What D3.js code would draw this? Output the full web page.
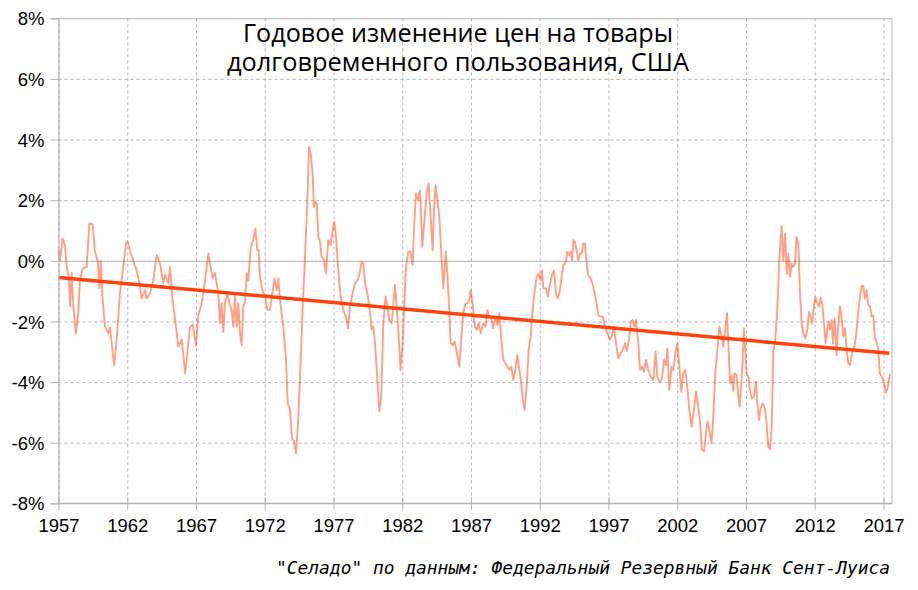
<!DOCTYPE html>
<html>
<head>
<meta charset="utf-8">
<script src="https://cdn.jsdelivr.net/npm/d3@7"></script>
<style>
  html, body { margin: 0; padding: 0; background: #fff; }
  svg { display: block; }
</style>
</head>
<body>
<svg id="chart" width="918" height="590"></svg>
<script>
// ---- Data ----
const titleLines = ["Годовое изменение цен на товары", "долговременного пользования, США"];
const sourceNote = "\"Селадо\" по данным: Федеральный Резервный Банк Сент-Луиса";

const xTickYears = [1957, 1962, 1967, 1972, 1977, 1982, 1987, 1992, 1997, 2002, 2007, 2012, 2017];
const yTickValues = [-8, -6, -4, -2, 0, 2, 4, 6, 8];

const trendYears = [1957.0, 2017.42];
const trendValues = [-0.55, -3.05];

const years = [
  1957.00,1957.10,1957.30,1957.47,1957.59,1957.76,1957.84,1957.96,1958.08,1958.27,1958.44,1958.56,1958.76,
  1959.05,1959.24,1959.49,1959.65,1959.85,1959.97,1960.07,1960.21,1960.38,1960.62,1960.75,1960.94,
  1961.06,1961.23,1961.47,1961.71,1961.91,1962.03,1962.20,1962.44,1962.69,1962.93,1963.05,1963.29,
  1963.41,1963.65,1963.90,1964.14,1964.38,1964.62,1964.75,1964.99,1965.11,1965.30,1965.55,1965.72,
  1965.96,1966.08,1966.20,1966.37,1966.56,1966.76,1967.00,1967.17,1967.41,1967.65,1967.90,1968.02,
  1968.21,1968.38,1968.62,1968.75,1968.87,1968.99,1969.11,1969.28,1969.42,1969.59,1969.71,1969.84,
  1969.96,1970.08,1970.20,1970.32,1970.44,1970.56,1970.69,1970.81,1970.98,1971.17,1971.32,1971.46,
  1971.55,1971.65,1971.85,1972.02,1972.19,1972.38,1972.58,1972.70,1972.87,1972.99,1973.11,1973.35,
  1973.54,1973.67,1973.84,1973.98,1974.13,1974.27,1974.42,1974.56,1974.76,1974.93,1975.10,1975.22,
  1975.34,1975.48,1975.58,1975.68,1975.78,1975.90,1976.02,1976.14,1976.31,1976.45,1976.62,1976.79,
  1976.94,1977.06,1977.18,1977.35,1977.52,1977.71,1977.91,1978.05,1978.20,1978.39,1978.56,1978.73,
  1978.88,1979.05,1979.17,1979.31,1979.46,1979.61,1979.78,1979.90,1980.02,1980.19,1980.33,1980.48,
  1980.62,1980.79,1980.92,1981.06,1981.23,1981.35,1981.47,1981.59,1981.71,1981.88,1982.03,1982.13,
  1982.27,1982.44,1982.60,1982.76,1982.85,1983.00,1983.15,1983.29,1983.46,1983.63,1983.78,1983.92,
  1984.07,1984.21,1984.31,1984.43,1984.55,1984.70,1984.84,1984.99,1985.16,1985.28,1985.42,1985.52,
  1985.67,1985.81,1985.96,1986.15,1986.30,1986.44,1986.59,1986.74,1986.88,1986.98,1987.12,1987.27,
  1987.41,1987.56,1987.70,1987.90,1988.07,1988.19,1988.33,1988.48,1988.62,1988.77,1988.92,1989.06,
  1989.21,1989.35,1989.50,1989.64,1989.79,1989.93,1990.08,1990.22,1990.37,1990.52,1990.66,1990.76,
  1990.90,1991.05,1991.19,1991.34,1991.49,1991.63,1991.78,1991.92,1992.07,1992.16,1992.26,1992.45,
  1992.60,1992.75,1992.92,1993.04,1993.18,1993.33,1993.47,1993.59,1993.72,1993.91,1994.01,1994.15,
  1994.25,1994.35,1994.44,1994.56,1994.68,1994.81,1994.93,1995.05,1995.17,1995.29,1995.41,1995.53,
  1995.70,1995.90,1996.09,1996.26,1996.38,1996.58,1996.75,1996.92,1997.11,1997.26,1997.40,1997.55,
  1997.72,1997.89,1998.08,1998.20,1998.32,1998.49,1998.61,1998.76,1998.88,1999.00,1999.17,1999.29,
  1999.44,1999.58,1999.73,1999.90,2000.07,2000.26,2000.43,2000.55,2000.70,2000.87,2001.04,2001.18,
  2001.28,2001.42,2001.59,2001.72,2001.86,2002.01,2002.15,2002.30,2002.44,2002.59,2002.73,2002.88,
  2003.05,2003.22,2003.36,2003.51,2003.65,2003.80,2003.95,2004.09,2004.19,2004.33,2004.50,2004.62,
  2004.77,2004.92,2005.06,2005.21,2005.35,2005.62,2005.72,2005.84,2005.96,2006.08,2006.15,2006.30,
  2006.44,2006.54,2006.66,2006.76,2006.85,2006.95,2007.05,2007.17,2007.29,2007.41,2007.58,2007.73,
  2007.82,2007.95,2008.07,2008.21,2008.38,2008.50,2008.62,2008.75,2008.87,2008.99,2009.11,2009.28,
  2009.42,2009.59,2009.71,2009.84,2009.96,2010.08,2010.20,2010.32,2010.44,2010.56,2010.68,2010.81,
  2010.93,2011.05,2011.17,2011.31,2011.46,2011.58,2011.70,2011.82,2011.94,2012.04,2012.19,2012.33,
  2012.45,2012.57,2012.67,2012.79,2012.91,2013.01,2013.11,2013.23,2013.33,2013.45,2013.59,2013.71,
  2013.84,2013.98,2014.08,2014.20,2014.32,2014.44,2014.56,2014.71,2014.85,2015.00,2015.15,2015.29,
  2015.41,2015.53,2015.65,2015.77,2015.90,2016.02,2016.14,2016.26,2016.38,2016.50,2016.62,2016.74,
  2016.87,2017.04,2017.18,2017.33,2017.47
];

const changes = [
  0.35,0.0,0.74,0.5,-0.2,-0.53,-1.5,-0.4,-1.5,-2.4,-1.7,-0.6,-0.25,
  -0.2,1.23,1.2,0.3,0.0,-0.9,0.0,-1.3,-2.17,-2.4,-2.2,-3.05,
  -3.44,-2.6,-1.07,-0.2,0.57,0.64,0.35,0.0,-0.33,-0.86,-1.24,-0.97,
  -1.24,-1.08,-0.64,0.19,-0.08,-0.74,-0.46,-0.74,-0.2,-1.3,-2.2,-2.83,
  -2.6,-3.1,-3.71,-3.05,-2.2,-2.1,-2.8,-1.8,-1.4,-0.66,0.24,-0.08,
  -0.57,-0.4,-1.07,-2.06,-1.4,-2.34,-1.4,-1.07,-1.4,-1.62,-2.17,-1.18,
  -2.17,-1.4,-2.39,-2.78,-1.51,-1.35,-0.42,-0.64,0.46,0.68,1.07,0.35,
  0.35,-0.53,-0.97,-1.18,-1.62,-1.62,-0.97,-0.58,-0.97,-0.58,-1.29,-2.17,
  -3.22,-4.7,-4.92,-5.85,-5.96,-6.35,-5.36,-3.93,-1.51,0.13,2.0,3.76,
  3.54,2.88,1.78,1.95,1.89,0.79,0.63,0.13,0.02,-0.42,0.68,0.52,
  1.01,1.29,0.79,-0.31,-1.18,-1.62,-1.84,-2.23,-1.51,-1.07,-0.75,-0.64,
  -0.47,-0.03,-0.09,-0.75,-1.07,-1.51,-2.28,-2.17,-2.72,-3.93,-4.97,-4.43,
  -2.06,-1.18,-1.51,-1.95,-2.06,-1.45,-0.8,-1.45,-2.28,-3.6,-2.72,-1.62,
  -0.2,0.3,0.3,-0.14,1.01,2.22,2.0,2.33,0.46,1.45,2.22,2.55,
  1.45,0.35,1.67,2.49,2.0,1.45,0.24,-0.91,0.3,-0.42,-1.62,-2.72,
  -2.78,-2.67,-3.0,-3.49,-2.5,-1.73,-1.41,-1.41,-1.29,-0.97,-1.41,-2.17,
  -2.28,-2.06,-2.39,-2.06,-2.17,-1.62,-1.84,-1.9,-2.23,-1.84,-2.12,-1.73,
  -2.61,-3.27,-3.38,-3.49,-3.6,-3.49,-3.93,-3.6,-3.11,-3.6,-4.04,-4.59,
  -4.92,-4.15,-2.94,-2.5,-1.62,-0.97,-0.53,-0.42,-0.64,-0.31,-0.91,-0.91,
  -1.18,-0.75,-0.42,-0.31,-1.08,-1.24,-0.97,-0.53,-0.14,-0.03,0.3,0.19,
  0.3,0.02,0.68,0.63,0.35,0.02,0.24,0.24,0.57,0.57,-0.09,-0.47,
  -0.58,-0.86,-1.29,-1.79,-1.84,-1.84,-2.17,-2.39,-2.61,-2.45,-2.17,-2.72,
  -3.22,-3.05,-2.89,-2.72,-2.99,-2.61,-2.01,-1.95,-2.17,-1.95,-2.72,-3.6,
  -3.49,-3.66,-3.27,-3.6,-3.82,-3.93,-2.99,-3.82,-3.99,-3.93,-3.27,-3.44,
  -2.89,-4.26,-3.49,-3.6,-3.05,-2.72,-3.49,-4.32,-3.71,-3.6,-4.15,-4.92,
  -5.47,-4.92,-4.32,-4.76,-5.25,-6.24,-6.29,-5.69,-5.3,-5.58,-6.02,-5.14,
  -3.71,-2.94,-2.17,-2.45,-2.83,-1.73,-2.72,-4.04,-3.8,-4.3,-3.71,-3.75,
  -4.43,-4.81,-4.04,-3.27,-2.23,-2.94,-3.71,-3.82,-4.26,-4.54,-4.48,-3.99,
  -4.7,-5.25,-4.87,-4.7,-4.87,-5.36,-6.13,-6.22,-5.47,-2.94,-2.72,-1.62,
  0.02,1.14,0.02,0.9,-0.42,0.24,-0.53,-0.09,-0.2,-0.09,0.79,0.57,
  -1.08,-2.06,-2.39,-2.56,-2.28,-1.68,-1.84,-2.06,-1.51,-1.19,-1.41,-1.51,
  -1.21,-1.51,-2.06,-2.72,-2.28,-2.01,-2.28,-1.95,-2.72,-1.9,-3.11,-2.17,
  -1.51,-1.95,-2.5,-2.23,-2.94,-3.38,-3.44,-3.05,-2.94,-2.5,-1.73,-1.19,
  -0.83,-0.83,-1.24,-0.97,-1.46,-1.51,-1.84,-1.8,-2.56,-2.67,-2.94,-3.71,
  -3.82,-4.04,-4.35,-4.15,-3.73
];

// ---- Layout ----
const svg = d3.select("#chart");
const plot = { left: 58.5, right: 892, top: 18.3, bottom: 503.3 };
const gridColor = "#b3b3b3";

const x = d3.scaleLinear().domain([1957, 2017.62]).range([plot.left, plot.right]);
const y = d3.scaleLinear().domain([-8, 8]).range([plot.bottom, plot.top]);

// Horizontal grid
const hGrid = svg.append("g")
  .attr("transform", `translate(${plot.left},0)`)
  .call(d3.axisLeft(y).tickValues(yTickValues).tickSize(-(plot.right - plot.left)).tickFormat(""));
hGrid.select(".domain").remove();
hGrid.selectAll(".tick line")
  .attr("stroke", gridColor)
  .attr("stroke-width", 1)
  .attr("stroke-dasharray", d => (d === 0 || d === 8 || d === -8) ? null : "3,3");

// Vertical grid
const vGrid = svg.append("g")
  .attr("transform", `translate(0,${plot.top})`)
  .call(d3.axisBottom(x).tickValues(xTickYears).tickSize(plot.bottom - plot.top).tickFormat(""));
vGrid.select(".domain").remove();
vGrid.selectAll(".tick line")
  .attr("stroke", gridColor)
  .attr("stroke-width", 1)
  .attr("stroke-dasharray", "3,3");

// Right border
svg.append("line")
  .attr("x1", x(x.domain()[1])).attr("x2", x(x.domain()[1]))
  .attr("y1", y(8)).attr("y2", y(-8))
  .attr("stroke", gridColor).attr("stroke-width", 1);

// Data series
const series = years.map((yr, i) => ({ yr, v: changes[i] }));
svg.append("path")
  .datum(series)
  .attr("fill", "none")
  .attr("stroke", "#ff420e")
  .attr("stroke-opacity", 0.5)
  .attr("stroke-width", 1.9)
  .attr("stroke-linejoin", "round")
  .attr("d", d3.line().x(d => x(d.yr)).y(d => y(d.v)));

// Trend line
const trend = trendYears.map((yr, i) => ({ yr, v: trendValues[i] }));
svg.append("path")
  .datum(trend)
  .attr("fill", "none")
  .attr("stroke", "#ff420e")
  .attr("stroke-width", 3.5)
  .attr("d", d3.line().x(d => x(d.yr)).y(d => y(d.v)));

// Y axis
const yAxis = svg.append("g")
  .attr("transform", `translate(${plot.left},0)`)
  .call(d3.axisLeft(y).tickValues(yTickValues).tickSize(8).tickPadding(6).tickFormat(d => `${d}%`));
yAxis.select(".domain").attr("stroke", gridColor).attr("stroke-width", 1.2);
yAxis.selectAll(".tick line").attr("stroke", gridColor);
yAxis.selectAll(".tick text")
  .attr("fill", "#000")
  .style("font-family", "'Liberation Sans', Arial, sans-serif")
  .style("font-size", "18.5px")
  .attr("dy", "0.36em");

// X axis
const xAxis = svg.append("g")
  .attr("transform", `translate(0,${plot.bottom})`)
  .call(d3.axisBottom(x).tickValues(xTickYears).tickSizeInner(6).tickSizeOuter(0).tickPadding(10).tickFormat(d => String(d)));
xAxis.select(".domain").attr("stroke", gridColor).attr("stroke-width", 1.2)
  .attr("d", `M${plot.left},0H${x(x.domain()[1])}`);
xAxis.selectAll(".tick line").attr("stroke", gridColor).attr("y1", -6).attr("y2", 7);
xAxis.selectAll(".tick text")
  .attr("fill", "#000")
  .style("font-family", "'Liberation Sans', Arial, sans-serif")
  .style("font-size", "18.5px");

// Title
const title = svg.append("g");
const titleSpecs = [
  { text: titleLines[0], y: 42, w: 430 },
  { text: titleLines[1], y: 71, w: 462 }
];
titleSpecs.forEach(s => {
  title.append("text")
    .attr("x", 458)
    .attr("y", s.y)
    .attr("text-anchor", "middle")
    .attr("textLength", s.w)
    .attr("lengthAdjust", "spacingAndGlyphs")
    .style("font-family", "'Open Sans', 'DejaVu Sans', sans-serif")
    .style("font-size", "25px")
    .attr("fill", "#000")
    .text(s.text);
});

// Source note
svg.append("text")
  .attr("x", 890)
  .attr("y", 574)
  .attr("text-anchor", "end")
  .attr("textLength", 614)
  .attr("lengthAdjust", "spacingAndGlyphs")
  .style("font-family", "'DejaVu Sans Mono', monospace")
  .style("font-style", "italic")
  .style("font-size", "17.5px")
  .attr("fill", "#000")
  .text(sourceNote);
</script>
</body>
</html>
